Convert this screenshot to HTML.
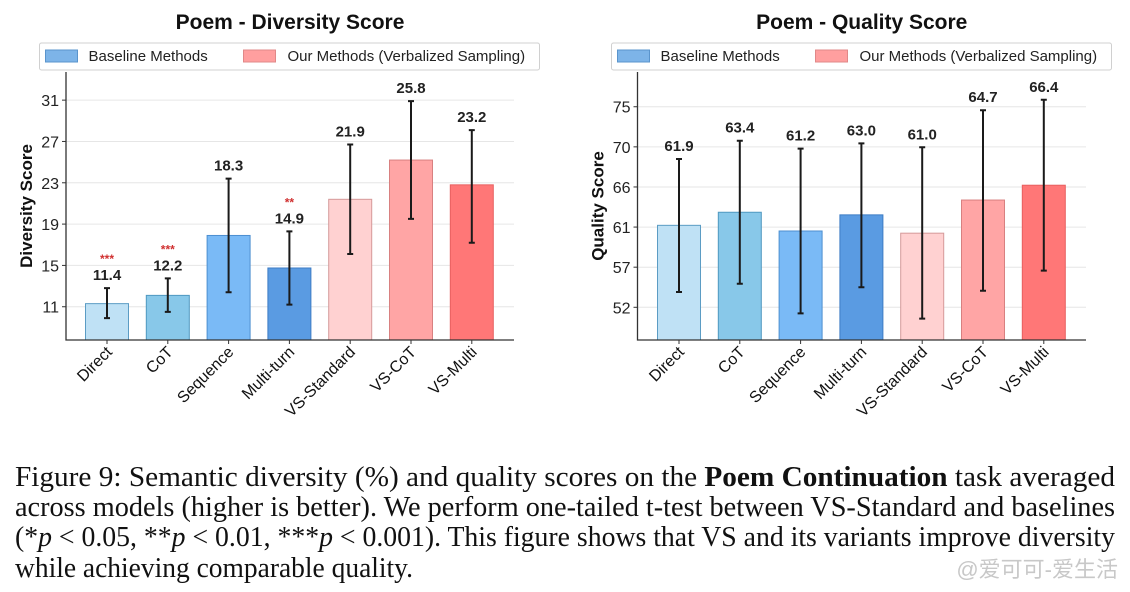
<!DOCTYPE html>
<html><head><meta charset="utf-8"><style>
html,body{margin:0;padding:0;background:#fff;width:1130px;height:592px;overflow:hidden}
svg{display:block;font-family:"Liberation Sans",sans-serif}
.cap{font-family:"Liberation Serif",serif;font-size:28px;fill:#111}
</style></head><body>
<svg id="fig" width="1130" height="592" viewBox="0 0 1130 592">
<g id="left"></g>
<g id="right"></g>
<g>
<text class="cap" x="15" y="486" textLength="1100" lengthAdjust="spacingAndGlyphs">Figure 9: Semantic diversity (%) and quality scores on the <tspan font-weight="bold">Poem Continuation</tspan> task averaged</text>
<text class="cap" x="15" y="516" textLength="1100" lengthAdjust="spacingAndGlyphs">across models (higher is better). We perform one-tailed t-test between VS-Standard and baselines</text>
<text class="cap" x="15" y="546" textLength="1100" lengthAdjust="spacingAndGlyphs">(*<tspan font-style="italic">p</tspan> &lt; 0.05, **<tspan font-style="italic">p</tspan> &lt; 0.01, ***<tspan font-style="italic">p</tspan> &lt; 0.001). This figure shows that VS and its variants improve diversity</text>
<text class="cap" x="15" y="577" textLength="398" lengthAdjust="spacingAndGlyphs">while achieving comparable quality.</text>
</g>
<text x="1118" y="577" text-anchor="end" font-size="22" fill="#c8c8c8" font-family="'Liberation Sans','Noto Sans CJK SC',sans-serif">@爱可可-爱生活</text>
</svg>
<script>
const categories = ["Direct","CoT","Sequence","Multi-turn","VS-Standard","VS-CoT","VS-Multi"];
const divBars = [11.3,12.1,17.9,14.75,21.4,25.2,22.8];
const divLabels = ["11.4","12.2","18.3","14.9","21.9","25.8","23.2"];
const divErrHi = [12.8,13.75,23.4,18.3,26.7,30.9,28.1];
const divErrLo = [9.9,10.5,12.4,11.2,16.1,19.5,17.2];
const divStars = ["***","***","","**","","",""];
const divTicks = [11,15,19,23,27,31];
const divTickLabels = ["11","15","19","23","27","31"];
const qualBars = [61.4,62.9,60.75,62.6,60.5,64.3,66.0];
const qualLabels = ["61.9","63.4","61.2","63.0","61.0","64.7","66.4"];
const qualErrHi = [69.0,71.1,70.2,70.8,70.35,74.6,75.8];
const qualErrLo = [53.75,54.7,51.3,54.3,50.7,53.9,56.2];
const qualStars = ["","","","","","",""];
const qualTicks = [52,56.6,61.2,65.8,70.4,75];
const qualTickLabels = ["52","57","61","66","70","75"];
const fills = ["#bfe1f5","#88c8e9","#7abaf6","#5a9be2","#ffd1d1","#ffa5a5","#ff7777"];
const edges = ["#5b9cc4","#4f98c0","#4d8fd0","#3d7cc4","#d59a9a","#d88080","#e86060"];
const NS="http://www.w3.org/2000/svg";
function mk(p,t,a){const e=document.createElementNS(NS,t);for(const k in a)e.setAttribute(k,a[k]);p.appendChild(e);return e;}
function chart(g,o){
  const y=v=>o.y0-(v-o.v0)*o.ppu;
  const x=i=>o.x0+o.step*i;
  const t=mk(g,'text',{x:(o.left+o.right)/2,y:29,'text-anchor':'middle','font-size':21,'font-weight':'bold',fill:'#111'});
  t.textContent=o.title;
  
  
  o.ticks.forEach((v,i)=>{
    const gl=mk(g,'line',{x1:o.left,x2:o.right,y1:y(v),y2:y(v),stroke:'#e6e6e6','stroke-width':1});
    
    
    mk(g,'line',{x1:o.left-4,x2:o.left,y1:y(v),y2:y(v),stroke:'#333'});
    const tl=mk(g,'text',{x:o.left-7,y:y(v)+6,'text-anchor':'end','font-size':16,fill:'#222'});
    tl.textContent=o.tickLabels[i];
    
    
  });
  const yl=mk(g,'text',{transform:`translate(${o.left-34},${(72+340)/2}) rotate(-90)`,'text-anchor':'middle','font-size':17,'font-weight':'bold',fill:'#111'});
  yl.textContent=o.ylabel;
  
  
  categories.forEach((c,i)=>{
    const cx=x(i),bw=43;
    const b=mk(g,'rect',{x:cx-bw/2,y:y(o.bars[i]),width:bw,height:o.y0-y(o.bars[i]),fill:fills[i],stroke:edges[i],'stroke-width':1});
    
    
    const hi=y(o.hi[i]),lo=y(o.lo[i]);
    const eb=mk(g,'path',{d:`M${cx},${hi}V${lo}M${cx-3},${hi}H${cx+3}M${cx-3},${lo}H${cx+3}`,stroke:'#1a1a1a','stroke-width':2,fill:'none'});
    
    
    const vl=mk(g,'text',{x:cx,y:hi-8,'text-anchor':'middle','font-size':15,'font-weight':'bold',fill:'#222'});
    vl.textContent=o.labels[i];
    
    
    if(o.stars[i]){
      const s=mk(g,'text',{x:cx,y:hi-25,'text-anchor':'middle','font-size':12,'font-weight':'bold',fill:'#d03030'});
      s.textContent=o.stars[i];
      
      
    }
    mk(g,'line',{x1:cx,x2:cx,y1:o.y0,y2:o.y0+4,stroke:'#333'});
    const xl=mk(g,'text',{transform:`translate(${cx+6},${o.y0+13}) rotate(-45)`,'text-anchor':'end','font-size':16,fill:'#111'});
    xl.textContent=c;
    
    
  });
  mk(g,'path',{d:`M${o.left},72V${o.y0}H${o.right}`,stroke:'#333','stroke-width':1.3,fill:'none'});
  const lg=mk(g,'g',{});
  
  
  mk(lg,'rect',{x:o.lx,y:43,width:500,height:27,fill:'#fff',stroke:'#d0d0d0',rx:2});
  mk(lg,'rect',{x:o.lx+6,y:50,width:32,height:12,fill:'#7db4e8',stroke:'#5a94cc'});
  const l1=mk(lg,'text',{x:o.lx+49,y:61,'font-size':15,fill:'#222'});l1.textContent='Baseline Methods';
  
  
  mk(lg,'rect',{x:o.lx+204,y:50,width:32,height:12,fill:'#ff9f9f',stroke:'#e08888'});
  const l2=mk(lg,'text',{x:o.lx+248,y:61,'font-size':15,fill:'#222'});l2.textContent='Our Methods (Verbalized Sampling)';
  
  
}
chart(document.getElementById('left'),{title:'Poem - Diversity Score',ylabel:'Diversity Score',left:66,right:514,y0:340,v0:7.78,ppu:10.33,x0:107,step:60.8,bars:divBars,labels:divLabels,hi:divErrHi,lo:divErrLo,stars:divStars,ticks:divTicks,tickLabels:divTickLabels,lx:39.5});
chart(document.getElementById('right'),{title:'Poem - Quality Score',ylabel:'Quality Score',left:637.5,right:1086,y0:340,v0:48.25,ppu:8.72,x0:679,step:60.8,bars:qualBars,labels:qualLabels,hi:qualErrHi,lo:qualErrLo,stars:qualStars,ticks:qualTicks,tickLabels:qualTickLabels,lx:611.5});
</script>
</body></html>
